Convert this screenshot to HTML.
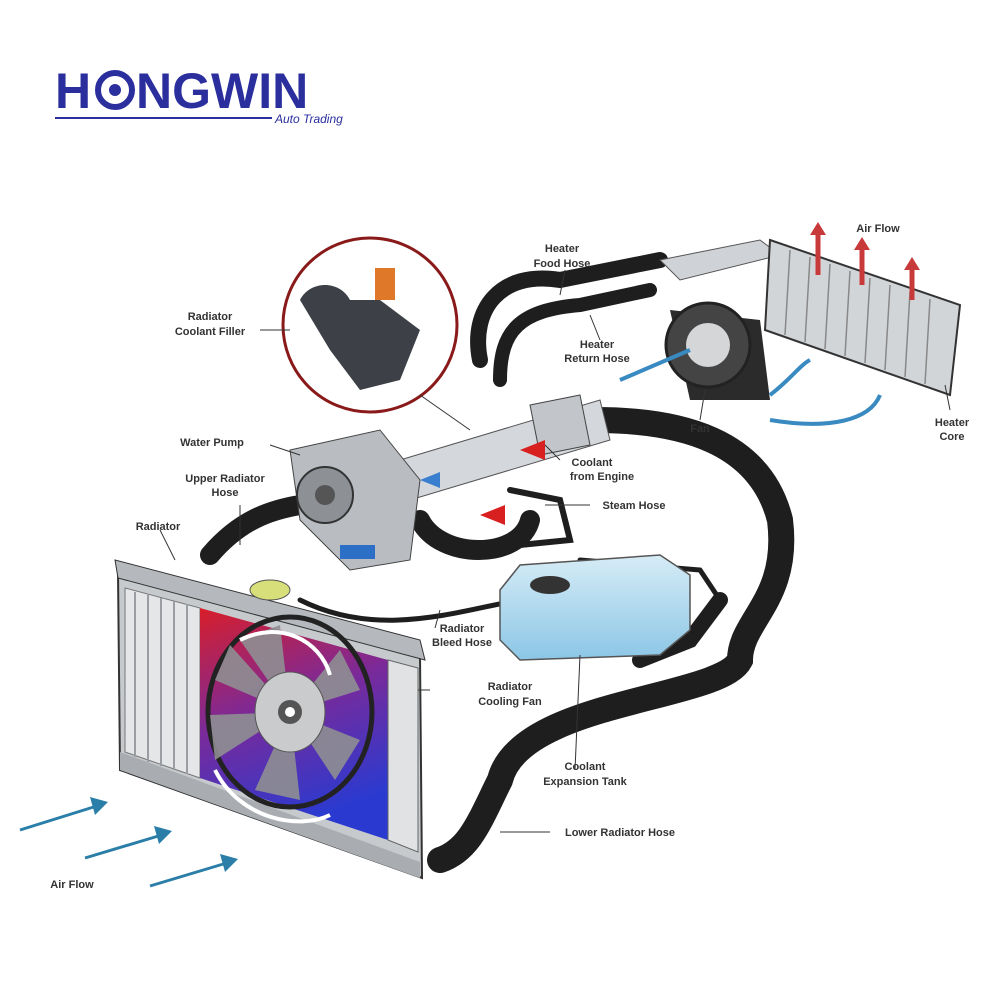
<!DOCTYPE html>
<html><head><meta charset="utf-8"><style>
html,body{margin:0;padding:0;background:#fff;}
svg{display:block;}
.l{font-family:"Liberation Sans",sans-serif;font-size:11px;font-weight:bold;fill:#333;}
</style></head><body>
<svg width="1000" height="1000" viewBox="0 0 1000 1000" xmlns="http://www.w3.org/2000/svg">
<defs>
<linearGradient id="rb" x1="0" y1="0" x2="0.3" y2="1"><stop offset="0" stop-color="#d81e2a"/><stop offset="0.5" stop-color="#7a2a9a"/><stop offset="1" stop-color="#2a3ad0"/></linearGradient>
<linearGradient id="tank" x1="0" y1="0" x2="0" y2="1"><stop offset="0" stop-color="#d6ecf6"/><stop offset="1" stop-color="#8cc6e6"/></linearGradient>
</defs>
<!-- logo -->
<text x="55" y="108" font-family="Liberation Sans,sans-serif" font-size="50" fill="#2b2f9e" font-weight="bold" letter-spacing="1">H</text>
<circle cx="115" cy="90" r="17" fill="none" stroke="#2b2f9e" stroke-width="6"/>
<circle cx="115" cy="90" r="6" fill="#2b2f9e"/>
<text x="136" y="108" font-family="Liberation Sans,sans-serif" font-size="50" fill="#2b2f9e" font-weight="bold">NGWIN</text>
<line x1="55" y1="118" x2="272" y2="118" stroke="#2b2f9e" stroke-width="2"/>
<text x="275" y="123" font-family="Liberation Sans,sans-serif" font-size="12" font-style="italic" fill="#2b2f9e">Auto Trading</text>

<!-- hoses -->
<g fill="none" stroke="#1e1e1e" stroke-linecap="round">
<path d="M480 360 C470 310 500 270 560 280 L660 260" stroke-width="16"/>
<path d="M500 380 C500 330 520 310 580 305 L650 290" stroke-width="14"/>
<path d="M595 420 C680 420 760 440 780 520 C790 600 740 620 740 660 C720 700 520 700 500 780 C480 820 470 850 440 860" stroke-width="26"/>
<path d="M720 600 L690 640 L640 660" stroke-width="16"/>
<path d="M420 520 C440 560 520 560 530 520" stroke-width="20"/>
<path d="M510 490 L560 500 L570 540 L520 545" stroke-width="6"/>
<path d="M210 555 C240 520 270 510 300 505" stroke-width="20"/>
<path d="M300 600 C380 640 460 610 520 600" stroke-width="5"/>
<path d="M580 560 L700 570 L720 600" stroke-width="5"/>
</g>
<path d="M660 260 L760 240 L780 255 L680 280 Z" fill="#cfd2d6" stroke="#555"/>
<!-- water pump and pipe -->
<path d="M400 460 L600 400 L610 440 L410 500 Z" fill="#d4d7db" stroke="#555"/>
<path d="M290 450 L380 430 L420 480 L410 560 L350 570 L300 520 Z" fill="#b9bdc2" stroke="#444"/>
<circle cx="325" cy="495" r="28" fill="#8d9196" stroke="#333" stroke-width="2"/>
<circle cx="325" cy="495" r="10" fill="#555"/>
<path d="M530 405 L580 395 L590 445 L540 455 Z" fill="#c2c5ca" stroke="#444"/>
<polygon points="520,450 545,440 545,460" fill="#d82020"/>
<polygon points="480,515 505,505 505,525" fill="#d82020"/>
<rect x="340" y="545" width="35" height="14" fill="#2b6fc6"/>
<polygon points="420,480 440,472 440,488" fill="#3a7ed0"/>
<!-- radiator -->
<path d="M118 572 L420 655 L422 878 L120 770 Z" fill="#c7cacd" stroke="#333" stroke-width="2"/>
<path d="M125 588 L200 608 L200 778 L125 752 Z" fill="#e4e6e8" stroke="#777"/>
<g stroke="#9a9ea2" stroke-width="2"><line x1="135" y1="592" x2="135" y2="757"/><line x1="148" y1="595" x2="148" y2="762"/><line x1="161" y1="598" x2="161" y2="766"/><line x1="174" y1="601" x2="174" y2="770"/><line x1="187" y1="604" x2="187" y2="774"/></g>
<path d="M200 608 L388 660 L388 840 L200 778 Z" fill="url(#rb)"/>
<path d="M388 660 L418 668 L418 852 L388 840 Z" fill="#e0e2e4" stroke="#666"/>
<path d="M120 770 L420 878 L420 862 L120 752 Z" fill="#a9adb1"/>
<path d="M115 560 L420 640 L425 660 L118 578 Z" fill="#b5b9bd" stroke="#333"/>
<ellipse cx="270" cy="590" rx="20" ry="10" fill="#d7df7a" stroke="#555"/>
<!-- fan -->
<ellipse cx="290" cy="712" rx="82" ry="95" fill="none" stroke="#222" stroke-width="5"/>
<g fill="#8f8f93" opacity="0.9">
<path d="M290 712 L240 640 L280 625 Z"/><path d="M290 712 L340 650 L360 690 Z"/><path d="M290 712 L360 740 L335 780 Z"/><path d="M290 712 L300 800 L255 790 Z"/><path d="M290 712 L215 760 L210 715 Z"/><path d="M290 712 L215 680 L230 645 Z"/>
</g>
<ellipse cx="290" cy="712" rx="35" ry="40" fill="#c9cbcd" stroke="#555"/>
<circle cx="290" cy="712" r="12" fill="#555"/><circle cx="290" cy="712" r="5" fill="#fff"/>
<path d="M240 640 C280 620 320 640 330 675" fill="none" stroke="#fff" stroke-width="4"/>
<path d="M215 770 C240 820 300 830 330 815" fill="none" stroke="#fff" stroke-width="4"/>
<!-- expansion tank -->
<path d="M500 590 L520 565 L660 555 L690 575 L690 630 L660 655 L520 660 L500 640 Z" fill="url(#tank)" stroke="#555" stroke-width="1.5"/>
<ellipse cx="550" cy="585" rx="20" ry="9" fill="#333"/>
<!-- inset circle -->
<circle cx="370" cy="325" r="87" fill="#fff" stroke="#8a1a1a" stroke-width="3"/>
<path d="M300 300 C310 280 340 280 350 300 L380 300 L420 330 L400 380 L360 390 L330 350 Z" fill="#3d4147"/>
<rect x="375" y="268" width="20" height="32" fill="#e0782a"/>
<line x1="420" y1="395" x2="470" y2="430" stroke="#333"/>
<!-- heater core -->
<path d="M770 240 L960 305 L950 395 L765 330 Z" fill="#d2d5d8" stroke="#333" stroke-width="2"/>
<g stroke="#888" stroke-width="1.5"><line x1="790" y1="250" x2="785" y2="335"/><line x1="810" y1="257" x2="805" y2="342"/><line x1="830" y1="264" x2="825" y2="349"/><line x1="850" y1="271" x2="845" y2="356"/><line x1="870" y1="278" x2="865" y2="363"/><line x1="890" y1="285" x2="885" y2="370"/><line x1="910" y1="292" x2="905" y2="377"/><line x1="930" y1="299" x2="925" y2="384"/></g>
<g stroke="#c83a3a" stroke-width="5" fill="none"><path d="M818 275 L818 230"/><path d="M862 285 L862 245"/><path d="M912 300 L912 265"/></g>
<g fill="#c83a3a"><polygon points="810,235 818,222 826,235"/><polygon points="854,250 862,237 870,250"/><polygon points="904,270 912,257 920,270"/></g>
<!-- blower -->
<path d="M670 310 L760 320 L770 400 L690 400 Z" fill="#2b2b2b"/>
<circle cx="708" cy="345" r="42" fill="#444" stroke="#222" stroke-width="3"/>
<circle cx="708" cy="345" r="22" fill="#d4d6d8"/>
<path d="M770 420 C830 430 870 420 880 395" fill="none" stroke="#3a8ac2" stroke-width="4"/>
<path d="M770 395 C790 380 800 365 810 360" fill="none" stroke="#3a8ac2" stroke-width="4"/>
<path d="M620 380 L690 350" stroke="#3a8ac2" stroke-width="4"/>
<!-- air flow arrows -->
<g stroke="#2a7ea8" stroke-width="3"><line x1="20" y1="830" x2="100" y2="805"/><line x1="85" y1="858" x2="165" y2="834"/><line x1="150" y1="886" x2="230" y2="862"/></g>
<g fill="#2a7ea8"><polygon points="108,802 90,797 95,815"/><polygon points="172,831 154,826 159,844"/><polygon points="238,859 220,854 225,872"/></g>
<!-- leader lines -->
<g stroke="#333" stroke-width="1"><line x1="260" y1="330" x2="290" y2="330"/><line x1="270" y1="445" x2="300" y2="455"/><line x1="240" y1="505" x2="240" y2="545"/><line x1="160" y1="530" x2="175" y2="560"/><line x1="565" y1="270" x2="560" y2="295"/><line x1="600" y1="340" x2="590" y2="315"/><line x1="700" y1="420" x2="705" y2="390"/><line x1="950" y1="410" x2="945" y2="385"/><line x1="590" y1="505" x2="545" y2="505"/><line x1="430" y1="690" x2="418" y2="690"/><line x1="575" y1="770" x2="580" y2="655"/><line x1="550" y1="832" x2="500" y2="832"/><line x1="560" y1="460" x2="545" y2="445"/><line x1="435" y1="628" x2="440" y2="610"/></g>
<!-- labels -->
<g class="l" text-anchor="middle">
<text x="210" y="320">Radiator</text><text x="210" y="335">Coolant Filler</text>
<text x="212" y="446">Water Pump</text>
<text x="225" y="482">Upper Radiator</text><text x="225" y="496">Hose</text>
<text x="158" y="530">Radiator</text>
<text x="562" y="252">Heater</text><text x="562" y="267">Food Hose</text>
<text x="597" y="348">Heater</text><text x="597" y="362">Return Hose</text>
<text x="878" y="232">Air Flow</text>
<text x="700" y="432">Fan</text>
<text x="952" y="426">Heater</text><text x="952" y="440">Core</text>
<text x="592" y="466">Coolant</text><text x="602" y="480">from Engine</text>
<text x="634" y="509">Steam Hose</text>
<text x="462" y="632">Radiator</text><text x="462" y="646">Bleed Hose</text>
<text x="510" y="690">Radiator</text><text x="510" y="705">Cooling Fan</text>
<text x="585" y="770">Coolant</text><text x="585" y="785">Expansion Tank</text>
<text x="620" y="836">Lower Radiator Hose</text>
<text x="72" y="888">Air Flow</text>
</g>
</svg>
</body></html>
